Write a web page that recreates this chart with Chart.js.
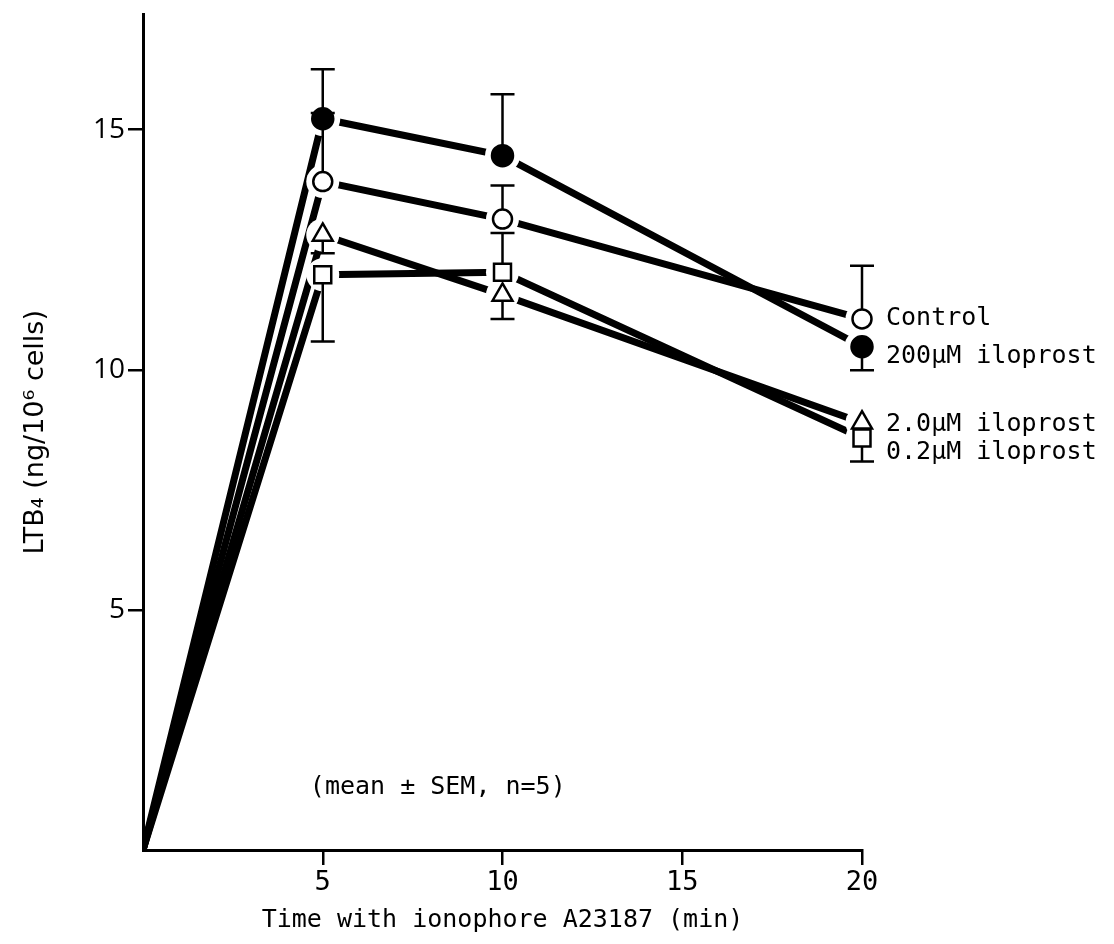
<!DOCTYPE html>
<html>
<head>
<meta charset="utf-8">
<script src="https://cdn.jsdelivr.net/npm/chart.js@4.4.1/dist/chart.umd.min.js"></script>
<style>
  html, body { margin: 0; padding: 0; background: #fff; }
  #wrap { width: 1114px; height: 944px; }
</style>
</head>
<body>
<div id="wrap"><canvas id="chart"></canvas></div>
<script>
// time points (min)
const times = [0, 5, 10, 20];
const xTicks = [5, 10, 15, 20];
const yTicks = [5, 10, 15];

// LTB4 values (ng/10^6 cells)
const control = [0, 13.92, 13.14, 11.06];
const ilo200 = [0, 15.23, 14.46, 10.48];
const ilo2 = [0, 12.81, 11.56, 8.90];
const ilo02 = [0, 11.98, 12.03, 8.58];

// SEM, only one side drawn: positive = bar up, negative = bar down
const controlSem = [null, 1.43, 0.70, 1.11];
const ilo200Sem = [null, 1.03, 1.28, -0.49];
const ilo2Sem = [null, -0.38, -0.50, null];
const ilo02Sem = [null, -1.39, 0.82, -0.49];

const seriesNames = ['Control', '200µM iloprost', '2.0µM iloprost', '0.2µM iloprost'];
const labelShift = [0, 10, 2, 14];

const monoFont = '"DejaVu Sans Mono", "Liberation Mono", monospace';
const sansFont = '"Open Sans", "DejaVu Sans", sans-serif';

const markerSize = { circle: 9.5, filled: 10.5, triangle: 11.5, rect: 12 };

function makeSet(name, values, sem, style, filled) {
    const r = filled ? markerSize.filled : markerSize[style];
    return {
        label: name,
        data: times.map((t, i) => ({ x: t, y: values[i] })),
        sem: sem,
        borderColor: '#000',
        borderWidth: 7,
        tension: 0,
        pointStyle: style,
        pointRadius: [0, r, r, r],
        pointBorderWidth: 2.5,
        pointBorderColor: '#000',
        pointBackgroundColor: filled ? '#000' : '#fff',
        pointHoverRadius: 0
    };
}

function haloRadius(pt) {
    const r = pt.options.radius;
    if (pt.options.pointStyle === 'rect') return r * 0.71 + 8;
    if (pt.options.pointStyle === 'triangle') return r + 5;
    return r + 7;
}

// white gap round the markers, then error bars, then markers on top
const markersPlugin = {
    id: 'markers',
    afterDatasetsDraw(chart) {
        const ctx = chart.ctx;
        const yScale = chart.scales.y;
        const metas = chart.data.datasets.map((d, i) => chart.getDatasetMeta(i));

        ctx.save();
        ctx.fillStyle = '#fff';
        metas.forEach(meta => {
            meta.data.forEach(pt => {
                if (!pt.options.radius) return;
                ctx.beginPath();
                ctx.arc(pt.x, pt.y, haloRadius(pt), 0, Math.PI * 2);
                ctx.fill();
            });
        });

        ctx.strokeStyle = '#000';
        ctx.lineWidth = 2.5;
        chart.data.datasets.forEach((ds, di) => {
            metas[di].data.forEach((pt, i) => {
                const s = ds.sem[i];
                if (s === null) return;
                const end = yScale.getPixelForValue(ds.data[i].y + s);
                ctx.beginPath();
                ctx.moveTo(pt.x, pt.y);
                ctx.lineTo(pt.x, end);
                ctx.moveTo(pt.x - 12, end);
                ctx.lineTo(pt.x + 12, end);
                ctx.stroke();
            });
        });
        ctx.restore();

        metas.forEach(meta => {
            meta.data.forEach(pt => {
                if (pt.options.radius) pt.draw(ctx, chart.chartArea);
            });
        });

        // series names at the last point
        ctx.save();
        ctx.fillStyle = '#000';
        ctx.font = '25px ' + monoFont;
        ctx.textBaseline = 'middle';
        metas.forEach((meta, di) => {
            const last = meta.data[meta.data.length - 1];
            ctx.fillText(seriesNames[di], last.x + 24, last.y + labelShift[di]);
        });

        ctx.textAlign = 'center';
        ctx.fillText('(mean ± SEM, n=5)', chart.scales.x.getPixelForValue(8.2), yScale.getPixelForValue(1.3));
        ctx.restore();
    }
};

const ctx = document.getElementById('chart');
new Chart(ctx, {
    type: 'line',
    data: {
        datasets: [
            makeSet('Control', control, controlSem, 'circle', false),
            makeSet('200µM iloprost', ilo200, ilo200Sem, 'circle', true),
            makeSet('2.0µM iloprost', ilo2, ilo2Sem, 'triangle', false),
            makeSet('0.2µM iloprost', ilo02, ilo02Sem, 'rect', false)
        ]
    },
    options: {
        responsive: true,
        maintainAspectRatio: false,
        animation: false,
        layout: { padding: { top: 0, right: 252, bottom: 0, left: 0 } },
        plugins: {
            legend: { display: false },
            tooltip: { enabled: false }
        },
        scales: {
            x: {
                type: 'linear',
                min: 0,
                max: 20,
                afterBuildTicks: s => { s.ticks = xTicks.map(v => ({ value: v })); },
                afterFit: s => { s.height = 94; s.paddingLeft = 0; s.paddingRight = 0; },
                border: { display: true, color: '#000', width: 3 },
                grid: { drawOnChartArea: false, drawTicks: true, tickLength: 15, color: '#000', lineWidth: 2.5 },
                ticks: { color: '#000', font: { family: monoFont, size: 27 }, padding: 2 },
                title: {
                    display: true,
                    text: 'Time with ionophore A23187 (min)',
                    color: '#000',
                    font: { family: monoFont, size: 25 },
                    padding: { top: 0, bottom: 9 }
                }
            },
            y: {
                type: 'linear',
                min: 0,
                max: 17.4,
                afterBuildTicks: s => { s.ticks = yTicks.map(v => ({ value: v })); },
                afterFit: s => { s.width = 143; s.paddingTop = 0; s.paddingBottom = 0; },
                border: { display: true, color: '#000', width: 3 },
                grid: { drawOnChartArea: false, drawTicks: true, tickLength: 15, color: '#000', lineWidth: 2.5 },
                ticks: { color: '#000', font: { family: sansFont, size: 28, weight: '500' }, padding: 3 },
                title: {
                    display: true,
                    text: 'LTB₄ (ng/10⁶ cells)',
                    color: '#000',
                    font: { family: '"DejaVu Sans", sans-serif', size: 27 },
                    padding: { top: 20, bottom: 0 }
                }
            }
        }
    },
    plugins: [markersPlugin]
});
</script>
</body>
</html>
